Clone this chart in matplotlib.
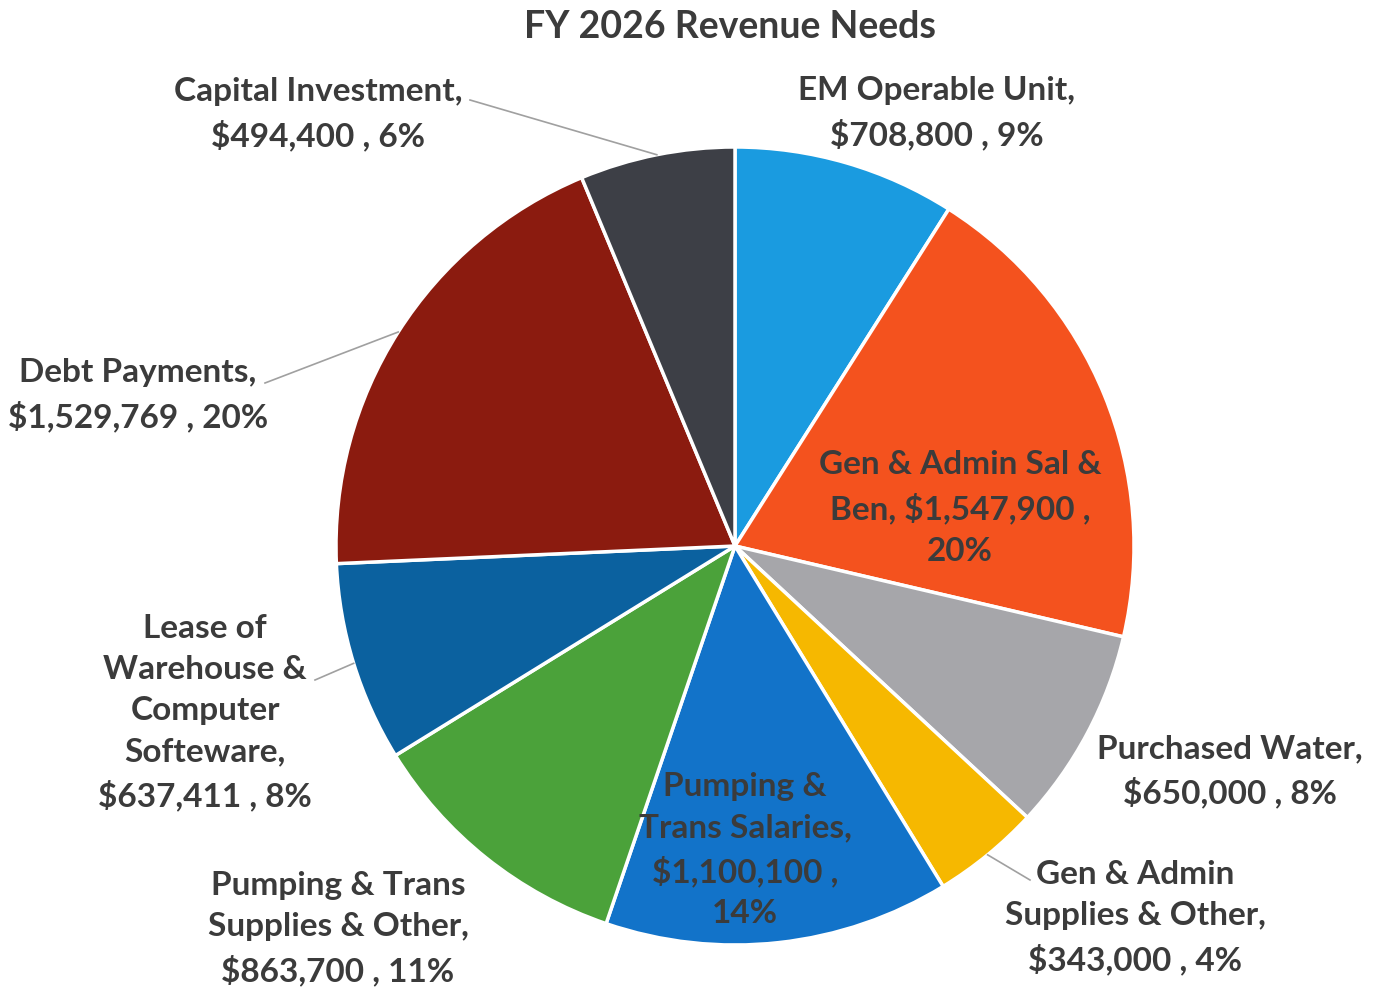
import matplotlib.pyplot as plt
import numpy as np

W, H = 1377, 991

names = ["EM Operable Unit", "Gen & Admin Sal &\nBen", "Purchased Water",
         "Gen & Admin\nSupplies & Other", "Pumping &\nTrans Salaries",
         "Pumping & Trans\nSupplies & Other", "Lease of\nWarehouse &\nComputer\nSofteware",
         "Debt Payments", "Capital Investment"]
values = [708800, 1547900, 650000, 343000, 1100100, 863700, 637411, 1529769, 494400]
pcts = [9, 20, 8, 4, 14, 11, 8, 20, 6]
# how the value part breaks onto lines
value_sep = ["\n", " ", "\n", "\n", "\n", "\n", "\n", "\n", "\n"]
pct_sep = [" ", "\n", " ", " ", "\n", " ", " ", " ", " "]
colors = ["#1a9be0", "#f4521e", "#a6a6aa", "#f6b800", "#1273c9",
          "#4ba23a", "#0b619f", "#8b1b0f", "#3d3f46"]

# label block centres in pixels (from the top-left), None = no leader line
label_xy = [(937, 113), (960, 508), (1230, 771), (1135, 918), (745, 850),
            (338, 929), (205, 713), (138, 395), (318, 114)]
leader_end = [None, None, None, (1030, 880), None, None, (315, 680), (265, 383), (470, 100)]

txt_col = "#3b3b3b"
font = "Lato"

fig = plt.figure(figsize=(W / 100, H / 100), dpi=100)
ax = fig.add_axes([0, 0, 1, 1])

cx, cy, r = 735, H - 546, 399
wedges, _ = ax.pie(values, colors=colors, startangle=90, counterclock=False,
                   center=(cx, cy), radius=r, frame=True,
                   wedgeprops=dict(edgecolor="white", linewidth=2.5))
ax.set_xlim(0, W)
ax.set_ylim(0, H)
ax.set_aspect("equal")
ax.axis("off")

for i, w in enumerate(wedges):
    lab = f"{names[i]},{value_sep[i]}${values[i]:,} ,{pct_sep[i]}{pcts[i]}%"
    x, y = label_xy[i]
    ax.text(x, H - y, lab, ha="center", va="center", multialignment="center",
            fontsize=24, fontweight="bold", family=font, color=txt_col, linespacing=1.5)
    if leader_end[i] is not None:
        ang = np.deg2rad((w.theta1 + w.theta2) / 2)
        px, py = cx + r * np.cos(ang), cy + r * np.sin(ang)
        ex, ey = leader_end[i]
        ax.plot([px, ex], [py, H - ey], color="#a0a0a0", linewidth=1.2)

ax.text(730, H - 27, "FY 2026 Revenue Needs", ha="center", va="center",
        fontsize=27, fontweight="bold", family=font, color=txt_col)

fig.savefig("out.png", dpi=100)
